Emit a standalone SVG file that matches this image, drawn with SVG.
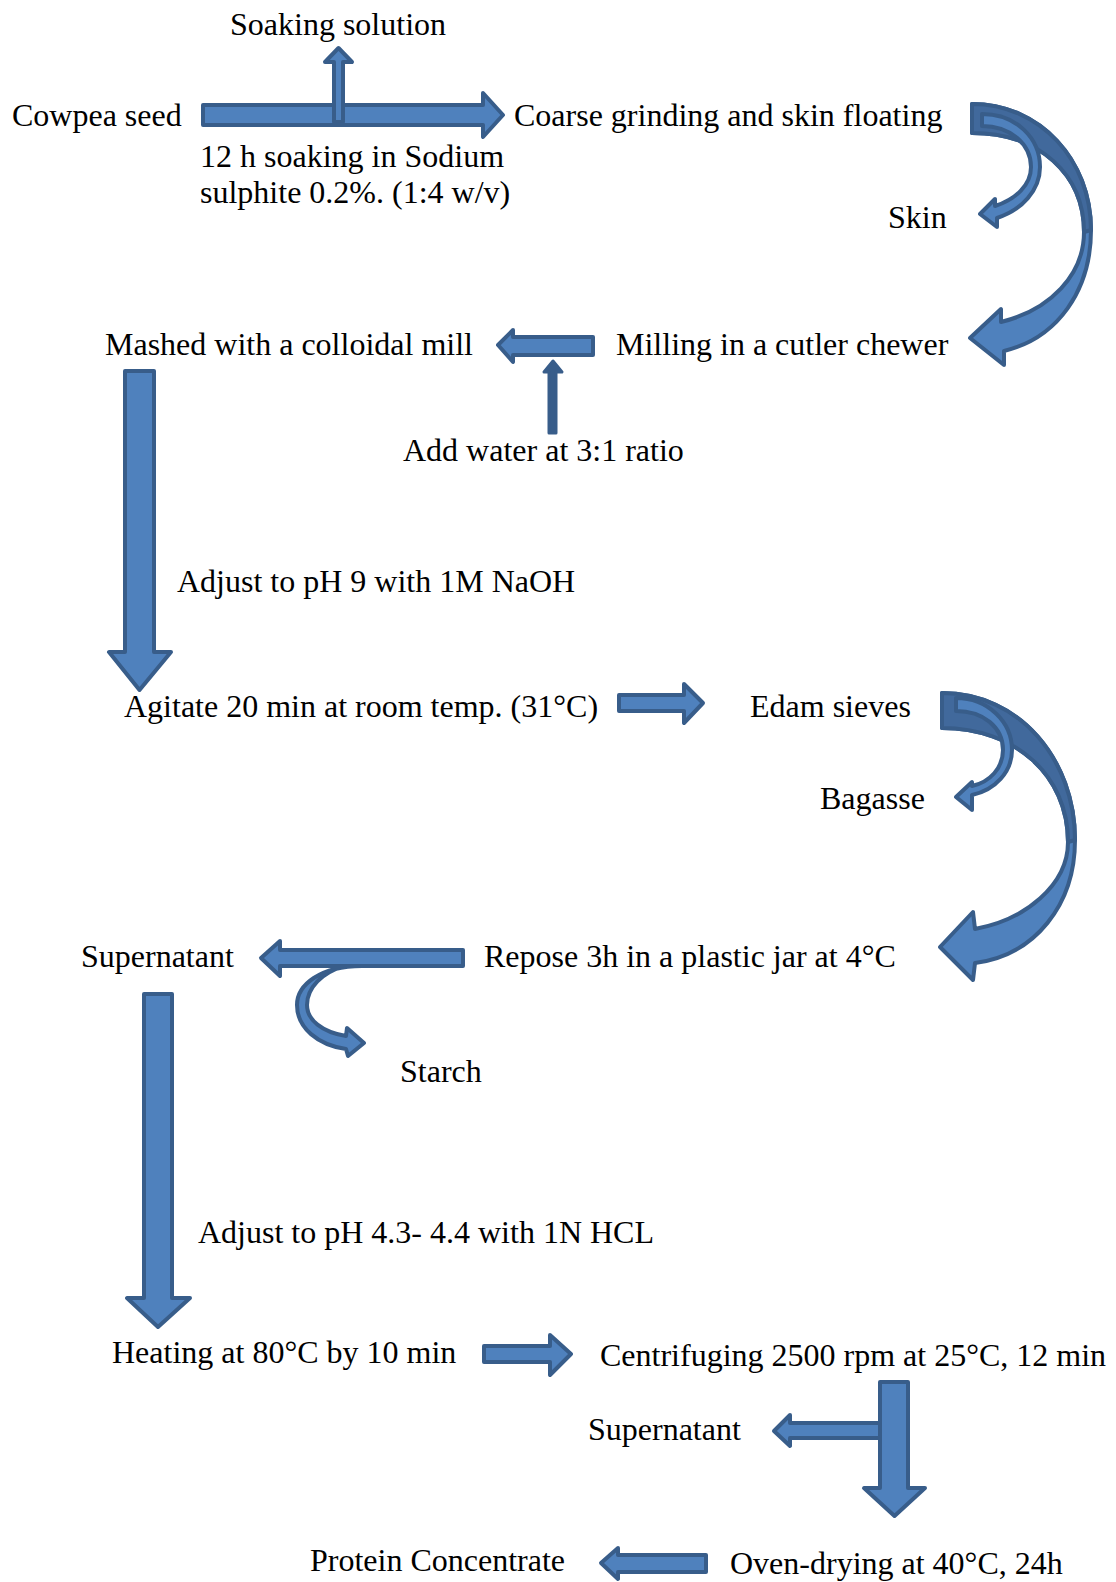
<svg xmlns="http://www.w3.org/2000/svg" width="1116" height="1582" viewBox="0 0 1116 1582">
<style>
.a{fill:#4F81BD;stroke:#385D8A;stroke-width:4;stroke-linejoin:round}
.d{fill:#41699C;stroke:#385D8A;stroke-width:4;stroke-linejoin:round}
.k{fill:#385D8A;stroke:#385D8A;stroke-width:3;stroke-linejoin:round}
text{font-family:"Liberation Serif","Times New Roman",serif;font-size:32px;fill:#000}
</style>
<rect width="1116" height="1582" fill="#fff"/>
<g id="connectors">
<path class="a" d="M203,105 H483 V93 L503,115 L483,137 V125 H203 Z"/>
<path class="a" d="M334,122 V62 H325 L338.5,48 L352,62 H343 V122 Z"/>
<path class="a" d="M972,104 C1040,104 1091,160 1091,230 C1091,290 1058,338 1004,351 L1004,365 L970,338 L1001,309 L1001,322 C1050,310 1084,275 1084,232 C1084,175 1040,133 972,133 Z"/>
<path class="d" d="M972,104 C1040,104 1091,160 1091,230 L1084,232 C1084,175 1040,133 972,133 Z"/>
<path class="a" d="M982,114 C1016,114 1040,138 1040,167 C1040,190 1022,210 997,218 L997,227 L980,214 L995,199 L995,206 C1016,199 1031,185 1031,167 C1031,144 1010,126 982,126 Z"/>
<path class="a" d="M593,337 H513 V330 L498,345 L513,362 V355 H593 Z"/>
<path class="k" d="M549,433 V372 H544 L553,361 L562,372 H556 V433 Z"/>
<path class="a" d="M125,371 H154 V652 H171 L139.5,690 L109,652 H125 Z"/>
<path class="a" d="M619,695 H684 V684 L703,703 L684,723 V711 H619 Z"/>
<path class="a" d="M942,693 C1020,693 1075,760 1075,840 C1075,905 1035,955 975,963 L973,980 L940,947 L973,912 L975,929 C1025,920 1068,885 1068,842 C1068,775 1015,728 942,728 Z"/>
<path class="d" d="M942,693 C1020,693 1075,760 1075,840 L1068,842 C1068,775 1015,728 942,728 Z"/>
<path class="a" d="M956,698 C988,698 1012,722 1012,750 C1012,772 995,790 972,795 L972,810 L956,797 L972,782 L972,786 C990,782 1003,768 1003,750 C1003,727 983,711 956,711 Z"/>
<path class="a" d="M362,966 C320,966 297,985 297,1005 C297,1028 318,1045 346,1049 L348,1056 L364,1043 L347,1028 L346,1036 C322,1032 307,1020 307,1005 C307,988 322,972 345,966 Z"/>
<path class="a" d="M463,950 H280 V941 L261,958 L280,976 V966 H463 Z"/>
<path class="a" d="M144,994 H172 V1298 H190 L158,1327 L127,1298 H144 Z"/>
<path class="a" d="M484,1346 H550 V1335 L571,1354 L550,1375 V1362 H484 Z"/>
<path class="a" d="M880,1423 H790 V1415 L774,1431 L790,1446 V1438 H880 Z"/>
<path class="a" d="M880,1382 H908 V1488 H925 L894.5,1516 L864,1488 H880 Z"/>
<path class="a" d="M706,1555 H618 V1548 L601,1563 L618,1579 V1572 H706 Z"/>
</g>
<g id="n1"><text x="230" y="35">Soaking solution</text></g>
<g id="n2"><text x="12" y="126">Cowpea seed</text></g>
<g id="n3"><text x="514" y="126">Coarse grinding and skin floating</text></g>
<g id="n4"><text x="200" y="167">12 h soaking in Sodium</text><text x="200" y="203">sulphite 0.2%. (1:4 w/v)</text></g>
<g id="n5"><text x="888" y="228">Skin</text></g>
<g id="n6"><text x="105" y="355">Mashed with a colloidal mill</text></g>
<g id="n7"><text x="616" y="355">Milling in a cutler chewer</text></g>
<g id="n8"><text x="403" y="461">Add water at 3:1 ratio</text></g>
<g id="n9"><text x="177" y="592">Adjust to pH 9 with 1M NaOH</text></g>
<g id="n10"><text x="124" y="717">Agitate 20 min at room temp. (31°C)</text></g>
<g id="n11"><text x="750" y="717">Edam sieves</text></g>
<g id="n12"><text x="820" y="809">Bagasse</text></g>
<g id="n13"><text x="81" y="967">Supernatant</text></g>
<g id="n14"><text x="484" y="967">Repose 3h in a plastic jar at 4°C</text></g>
<g id="n15"><text x="400" y="1082">Starch</text></g>
<g id="n16"><text x="198" y="1243">Adjust to pH 4.3- 4.4 with 1N HCL</text></g>
<g id="n17"><text x="112" y="1363">Heating at 80°C by 10 min</text></g>
<g id="n18"><text x="600" y="1366">Centrifuging 2500 rpm at 25°C, 12 min</text></g>
<g id="n19"><text x="588" y="1440">Supernatant</text></g>
<g id="n20"><text x="310" y="1571">Protein Concentrate</text></g>
<g id="n21"><text x="730" y="1574">Oven-drying at 40°C, 24h</text></g>
</svg>
